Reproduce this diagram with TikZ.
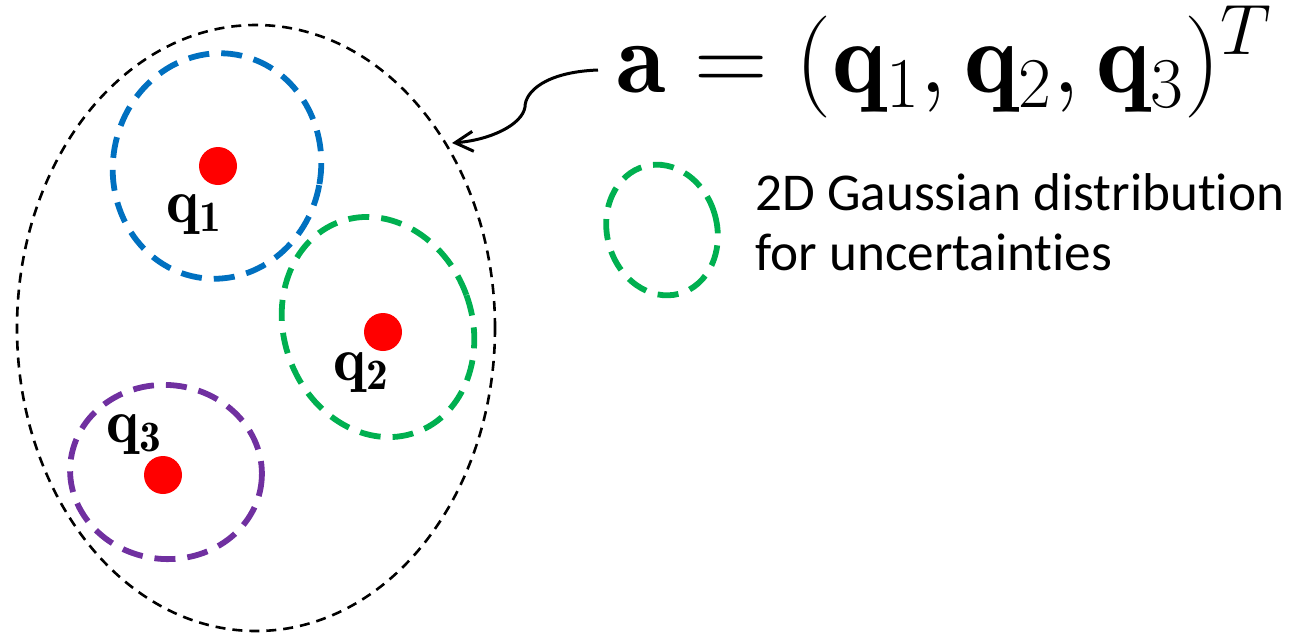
\documentclass[tikz,border=0pt]{standalone}
\usepackage{fix-cm}
\usepackage{fontspec}
\newfontfamily\calib[Ligatures={NoCommon,NoContextual}]{Carlito}
\usetikzlibrary{arrows.meta,shapes.geometric}
\definecolor{cblue}{RGB}{0,112,192}
\definecolor{cgreen}{RGB}{0,176,80}
\definecolor{cpurple}{RGB}{112,48,160}
\definecolor{cred}{RGB}{255,0,0}
\tikzset{
  grouping/.style={draw=black,line width=1.3pt,dash pattern=on 5pt off 3.5pt},
  uncert/.style={line width=2.9pt,dash pattern=on 10.5pt off 6pt},
  point/.style={circle,fill=cred,inner sep=0pt,minimum size=19pt},
  plabel/.style={inner sep=0pt,anchor=base west,font=\fontsize{31}{36}\selectfont},
  legendtext/.style={inner sep=0pt,anchor=base west,font=\calib\fontsize{26.6}{32}\selectfont},
  pointer/.style={line width=1.5pt,-{Straight Barb[length=9pt,width=10pt,line width=1.5pt]}}
}
\begin{document}
\begin{tikzpicture}[x=0.5pt,y=0.5pt]
\useasboundingbox (0,0) rectangle (1309,-633);
% grouping ellipse
\node[ellipse,grouping,inner sep=0pt,minimum width=239pt,minimum height=303pt] (group) at (256,-328) {};
% uncertainty ellipses
\draw[uncert,draw=cblue,rotate around={-10:(217,-166)}] (217,-166) ellipse [x radius=52pt,y radius=56.5pt];
\draw[uncert,draw=cgreen,rotate around={20:(378,-327)}] (378,-327) ellipse [x radius=47pt,y radius=56pt];
\draw[uncert,draw=cpurple,rotate around={-6:(166,-472)}] (166,-472) ellipse [x radius=48pt,y radius=43.5pt];
% points
\node[point] (p1) at (218,-166) {};
\node[point] (p2) at (383,-332) {};
\node[point] (p3) at (163,-475) {};
\node[plabel] (lbA) at (166,-222) {$\mathbf{q}_{\mathbf{1}}$};
\node[plabel] (lbB) at (333,-380) {$\mathbf{q}_{\mathbf{2}}$};
\node[plabel] (lbC) at (106,-442) {$\mathbf{q}_{\mathbf{3}}$};
% formula
\node[inner sep=0pt,anchor=base west,font=\fontsize{51}{60}\selectfont] (formula) at (616,-92) {$\mathbf{a}=(\mathbf{q}_1,\mathbf{q}_2,\mathbf{q}_3)^T$};
% pointer
\coordinate (src) at (598,-70);
\coordinate (tip) at (452,-143);
\draw[pointer] (src) .. controls (545,-72) and (525,-92) .. (525,-107) .. controls (522,-125) and (490,-140) .. (tip);
% legend
\draw[uncert,draw=cgreen,rotate around={15:(662,-230)}] (662,-230) ellipse [x radius=27.5pt,y radius=33pt];
\node[legendtext] (lt1) at (755,-210) {2D Gaussian distribution};
\node[legendtext] (lt2) at (755,-270) {for uncertainties};
\end{tikzpicture}
\end{document}
